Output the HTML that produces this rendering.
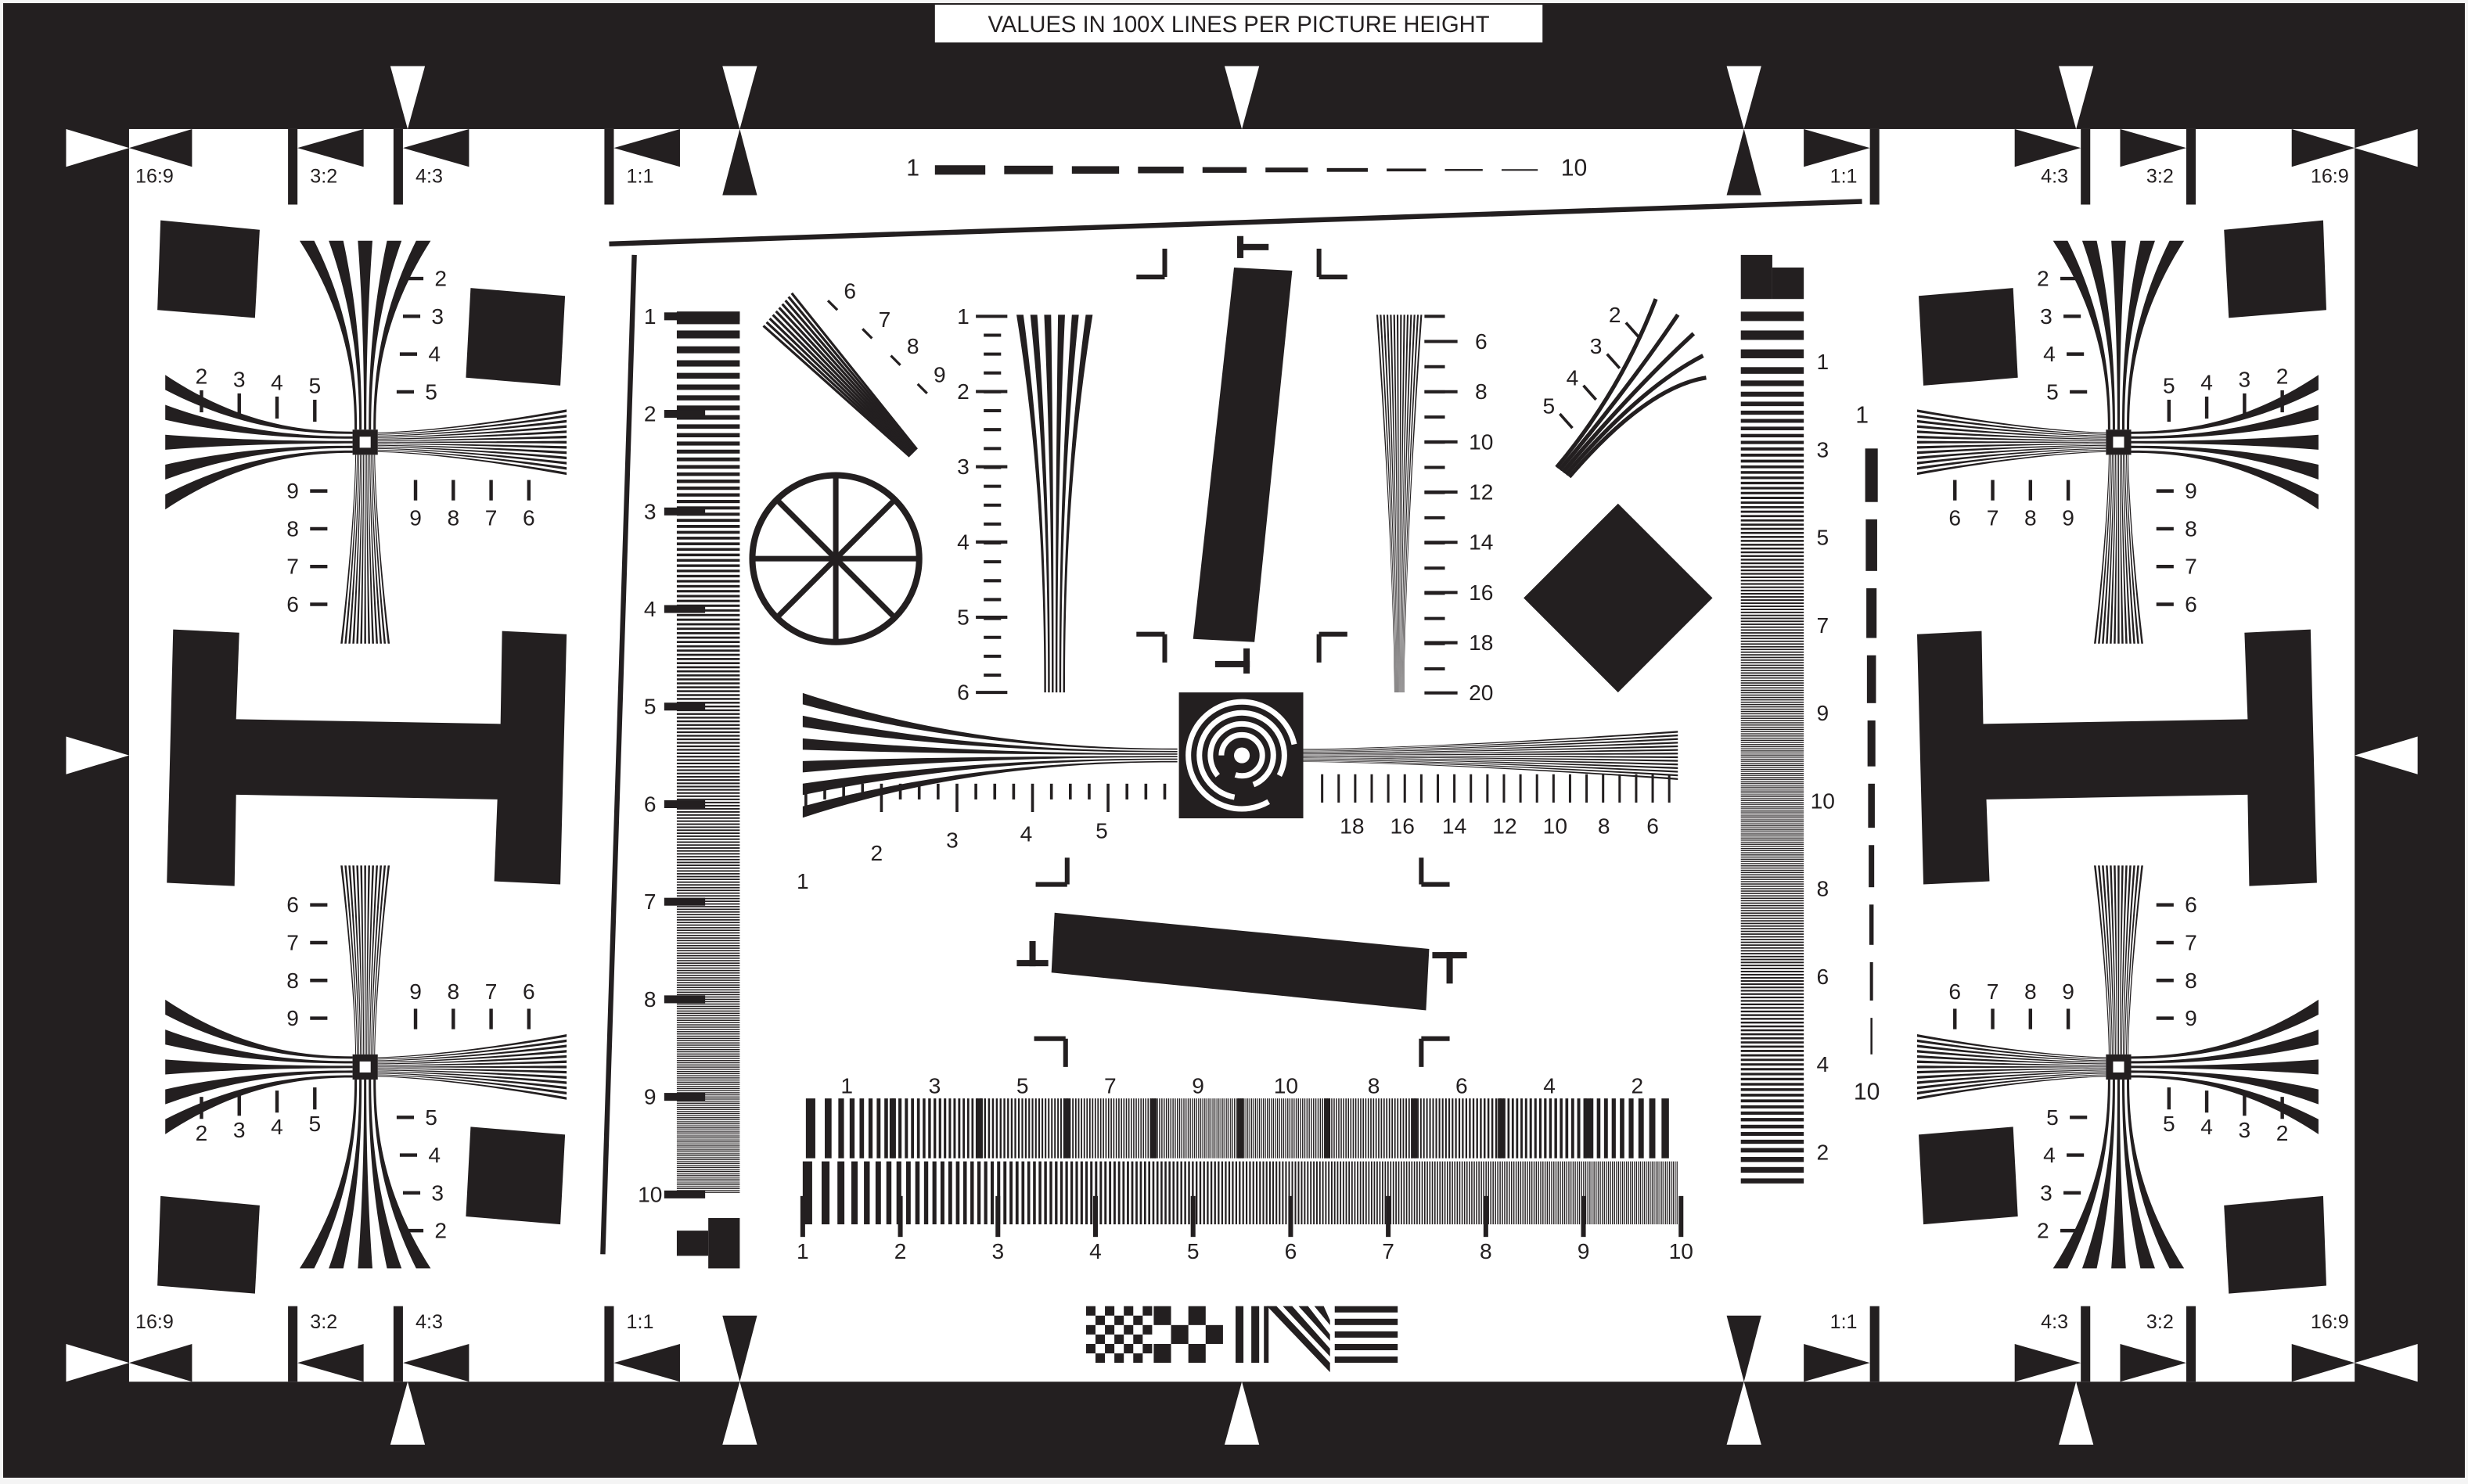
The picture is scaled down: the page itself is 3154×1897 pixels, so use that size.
<!DOCTYPE html>
<html><head><meta charset="utf-8"><style>
html,body{margin:0;padding:0;background:#fff;}
svg{display:block;font-family:"Liberation Sans",sans-serif;}
</style></head><body>
<svg id="s" xmlns="http://www.w3.org/2000/svg" width="3154" height="1897" viewBox="0 0 1568 943" preserveAspectRatio="none">
<rect x="0" y="0" width="1568" height="943" fill="#f4f4f4"/>
<rect x="2" y="2" width="1564" height="937" fill="#231f20"/>
<rect x="82" y="82" width="1414" height="796" fill="#fff"/>
<rect x="594" y="3" width="386" height="24" fill="#fff"/>
<text x="787" y="16" font-size="14.5" text-anchor="middle" dominant-baseline="central" fill="#231f20">VALUES IN 100X LINES PER PICTURE HEIGHT</text>
</svg>
<script>
const NS='http://www.w3.org/2000/svg';const S=document.getElementById('s');const B='#231f20';
function E(t,a,p){const e=document.createElementNS(NS,t);for(const k in a)e.setAttribute(k,a[k]);(p||S).appendChild(e);return e;}
function poly(pts,p,fill){return E('polygon',{points:pts.map(q=>q[0].toFixed(2)+','+q[1].toFixed(2)).join(' '),fill:fill||B},p);}
function R(x,y,w,h,p,fill){return E('rect',{x,y,width:w,height:h,fill:fill||B},p);}
function T(x,y,s,size,anchor,p){const e=E('text',{x,y,'font-size':size||14,'text-anchor':anchor||'middle','dominant-baseline':'central',fill:B},p);e.textContent=s;return e;}
function L(x1,y1,x2,y2,w,p){return E('line',{x1,y1,x2,y2,stroke:B,'stroke-width':w||2},p);}
const MX=1578;
function frameRow(yTop,dir){
  const yb=dir>0?82:878, ym=dir>0?94:866, y2=dir>0?106:854, ylab=dir>0?112:840, ybar=dir>0?130:830;
  [[0,1],[1,-1]].forEach(([side,s])=>{
    const X=x=>side?MX-x:x;
    poly([[X(42),yb],[X(42),y2],[X(82),ym]],S,'#fff');
    poly([[X(82),ym],[X(122),yb],[X(122),y2]]);
    T(side?MX-86-24:86,ylab,'16:9',12.5,'start');
    [[183,'3:2'],[250,'4:3'],[384,'1:1']].forEach(([bx,l])=>{
      R(side?MX-bx-6:bx,Math.min(yb,ybar),6,Math.abs(ybar-yb));
      poly([[X(bx+6),ym],[X(bx+48),yb],[X(bx+48),y2]]);
      T(side?MX-bx-14:bx+14,ylab,l,12.5,side?'end':'start');
    });
    const ot=dir>0?42:918;
    poly([[X(248),ot],[X(270),ot],[X(259),yb]],S,'#fff');
    const it=dir>0?124:836;
    poly([[X(459),ot],[X(481),ot],[X(470),yb]],S,'#fff');
    poly([[X(459),it],[X(481),it],[X(470),yb]]);
  });
  const ot=dir>0?42:918;
  poly([[778,ot],[800,ot],[789,yb]],S,'#fff');
}
frameRow(0,1);frameRow(0,-1);
poly([[42,468],[42,492],[82,480]],S,'#fff');poly([[1536,468],[1536,492],[1496,480]],S,'#fff');
function fan(map,far,near,wFar,wNear,n,pw,thick,p){
  for(let i=0;i<n;i++){const L1=[],R1=[];
    for(let k=0;k<=24;k++){const s=k/24;const a=far+(near-far)*s;const h=wNear/2+(wFar-wNear)/2*Math.pow(1-s,pw);
      const c=(-1+2*i/(n-1))*h;const th=(thick||0.5)*2*h/(n-1);
      L1.push(map(a,c-th/2));R1.unshift(map(a,c+th/2));}
    poly(L1.concat(R1),p);}
}
function cross(cx,cy,sx,sy){
  const g=E('g',{transform:`translate(${cx},${cy}) scale(${sx},${sy})`});
  const V=(a,b)=>[b,a],H=(a,b)=>[a,b];
  fan(V,-128,-8,74,12,5,2.2,0.5,g);
  fan(V,128,8,30,12,13,1.5,0.5,g);
  fan(H,-127,-8,76,12,5,2.2,0.5,g);
  fan(H,128,8,40,12,13,1.5,0.5,g);
  R(-8,-8,16,16,g);R(-3.5,-3.5,7,7,g,'#fff');
  const P=(x,y)=>[cx+sx*x,cy+sy*y];
  const tk=(x1,y1,x2,y2)=>{const a=P(x1,y1),b=P(x2,y2);L(a[0],a[1],b[0],b[1],2.2);};
  [['2',-104,26],['3',-80,24],['4',-56,22],['5',-32,20]].forEach(([l,y,x])=>{tk(x,y,x+11,y);const q=P(x+22,y);T(q[0],q[1],l,14);});
  [['2',-104,-33],['3',-80,-31],['4',-56,-29],['5',-32,-27]].forEach(([l,x,y])=>{tk(x,y,x,y+14);const q=P(x,y-9);T(q[0],q[1],l,14);});
  [['9',31],['8',55],['7',79],['6',103]].forEach(([l,y])=>{tk(-24,y,-35,y);const q=P(-46,y);T(q[0],q[1],l,14);});
  [['9',32],['8',56],['7',80],['6',104]].forEach(([l,x])=>{tk(x,24,x,37);const q=P(x,48);T(q[0],q[1],l,14);});
}
cross(232,281,1,1);cross(232,678,1,-1);cross(1346,281,-1,1);cross(1346,678,-1,-1);
[[[102,140],[165,146],[162,202],[100,197]],[[299,183],[359,188],[356,245],[296,240]],[[299,716],[359,721],[356,778],[296,773]],[[102,760],[165,766],[162,822],[100,817]]].forEach(q=>{poly(q);poly(q.map(p=>[MX-p[0],p[1]]));});
const Hs=[[110,400],[152,402],[150,457],[318,460],[319,401],[360,403],[356,562],[314,560],[316,508],[150,505],[149,563],[106,561]];
poly(Hs);poly(Hs.map(p=>[MX-p[0],p[1]]));
T(580,107,'1',15);T(1000,107,'10',15);
{let x=594;for(let i=0;i<10;i++){const w=32-i*1.0,h=Math.max(1,6-i*0.6);R(x,108-h/2,w,h);x+=w+12;}}
L(387,155,1183,128,3.2);L(403,162,383,797,3.2);
function bursts(a0,a1,b0,b1,fFn,vert,p){let t=a0;while(t<a1){const f=Math.max(1,fFn(t));const per=12/f;const w=Math.min(per/2,a1-t);if(vert)R(t,b0,w,b1-b0,p);else R(b0,t,b1-b0,w,p);t+=per;}}
bursts(198,758,430,470,y=>1+9*(y-198)/560,false);
['1','2','3','4','5','6','7','8','9','10'].forEach((l,i)=>{const y=201+i*62;T(413,y,l,14);R(422,y-2.5,26,5);});
R(430,198,40,8);R(430,782,20,16);R(450,774,20,32);
bursts(198,752,1106,1146,y=>y<508?1+9*(y-220)/288:10-8*(y-508)/224,false);
['1','3','5','7','9','10','8','6','4','2'].forEach((l,i)=>T(1158,230+i*55.8,l,14));
R(1106,162,20,28);R(1126,170,20,20);
T(1183,264,'1',15);T(1186,694,'10',15);
{let y=285;for(let i=0;i<10;i++){const h=34-i*1.2,w=Math.max(1.2,8-i*0.75);R(1189-w/2,y,w,h);y+=h+11;}}
bursts(512,1064,698,736,x=>1+9*(1-Math.abs(x-788)/276),true);
for(let i=1;i<10;i++){R(512+i*55.2-2,698,4,38);}
['1','3','5','7','9','10','8','6','4','2'].forEach((l,i)=>T(538+i*55.8,690,l,14));
bursts(510,1066,738,778,x=>1+9*(x-510)/556,true);
for(let i=0;i<10;i++){const x=510+i*62;R(x-1.5,760,3,26);T(x,795,String(i+1),14);}
fan((a,b)=>[a,480+b],510,748,72,8,6,2.2,0.5);
fan((a,b)=>[a,480+b],1066,828,30,8,14,1.5,0.5);
for(let x=512;x<=745;x+=12){const long=((x-512)/12)%4==0;L(x,498,x,long?516:508,1.8);}
[['1',510,560],['2',557,542],['3',605,534],['4',652,530],['5',700,528]].forEach(([l,x,y])=>T(x,y,l,14));
for(let x=840;x<=1062;x+=10.5){L(x,492,x,510,1.5);}
[['18',859],['16',891],['14',924],['12',956],['10',988],['8',1019],['6',1050]].forEach(([l,x])=>T(x,525,l,14));
R(749,440,79,80);
{const g=E('g',{});[34,27,20,13].forEach((r,i)=>{E('circle',{cx:789,cy:480,r:r,fill:'none',stroke:'#fff','stroke-width':3.5,'stroke-dasharray':`${2*Math.PI*r*0.8} ${2*Math.PI*r*0.2}`,transform:`rotate(${60+i*40} 789 480)`},g);});E('circle',{cx:789,cy:480,r:5,fill:'#fff'},g);}
fan((a,b)=>[670+b,a],200,440,44,12,6,2.2,0.5);
fan((a,b)=>[889+b,a],200,440,28,6,14,1.5,0.5);
['1','2','3','4','5','6'].forEach((l,i)=>{const y=201+i*47.8;T(612,y,l,14);L(620,y,640,y,2);});
for(let y=213;y<440;y+=12){L(625,y,636,y,2);}
['6','8','10','12','14','16','18','20'].forEach((l,i)=>{const y=217+i*31.9;T(941,y,l,14);L(905,y,926,y,2);});
for(let y=201;y<440;y+=16){L(905,y,918,y,2);}
poly([[784,170],[821,172],[797,408],[758,406]]);
function brk(x,y,hx,vy){L(x,y,x+hx,y,3);L(x,y,x,y+vy,3);}
brk(740,176,-18,-18);brk(838,176,18,-18);brk(740,403,-18,18);brk(838,403,18,18);
R(786,150,4,14);R(786,155,20,4);R(790,412,4,16);R(772,420,22,4);
poly([[670,580],[908,603],[906,642],[668,618]]);
brk(678,562,-20,-17);brk(903,562,18,-17);brk(677,660,-20,18);brk(903,660,18,18);
R(646,610,20,4);R(654,598,4,16);R(910,605,22,4);R(919,605,4,20);
E('circle',{cx:531,cy:355,r:53,fill:'none',stroke:B,'stroke-width':4});
for(let k=0;k<4;k++){const a=k*Math.PI/4;L(531-53*Math.cos(a),355-53*Math.sin(a),531+53*Math.cos(a),355+53*Math.sin(a),3.5);}
poly([[1028,320],[1088,380],[1028,440],[968,380]]);
for(let i=0;i<10;i++){L(485+i*2,207-i*2.3,578+i*0.5,290-i*0.5,1.6);}
[['6',540,185],['7',562,203],['8',580,220],['9',597,238]].forEach(([l,x,y])=>{T(x,y,l,14);L(x-14,y+6,x-8,y+12,1.6);});
[[1052,190],[1066,200],[1076,212],[1082,226],[1084,240]].forEach((e,i)=>{
  const sx=989+i*2,sy=297+i*1.5;
  const cx=1030+i*4,cy=248-i*0.5;
  E('path',{d:`M${sx},${sy} Q${cx},${cy} ${e[0]},${e[1]}`,fill:'none',stroke:B,'stroke-width':2.6},S);
});
[['2',1026,200],['3',1014,220],['4',999,240],['5',984,258]].forEach(([l,x,y])=>{T(x,y,l,14);L(x+7,y+5,x+15,y+14,1.8);});
{const g=E('g',{});for(let r=0;r<6;r++)for(let c=0;c<7;c++)if((r+c)%2==0)R(690+c*6,830+r*6,6,6,g);
for(let r=0;r<3;r++)for(let c=0;c<4;c++)if((r+c)%2==0)R(733+c*11,830+r*12,11,12,g);
R(785,830,5,36,g);R(795,830,5,36,g);
for(let i=0;i<4;i++)poly([[805+i*10,830],[811+i*10,830],[845,830+36-i*10*0.9],[845,836+36-i*10]],g);
R(803,830,3,36,g);
for(let i=0;i<5;i++)R(848,830+i*8,40,4,g);}
</script>
</body></html>
